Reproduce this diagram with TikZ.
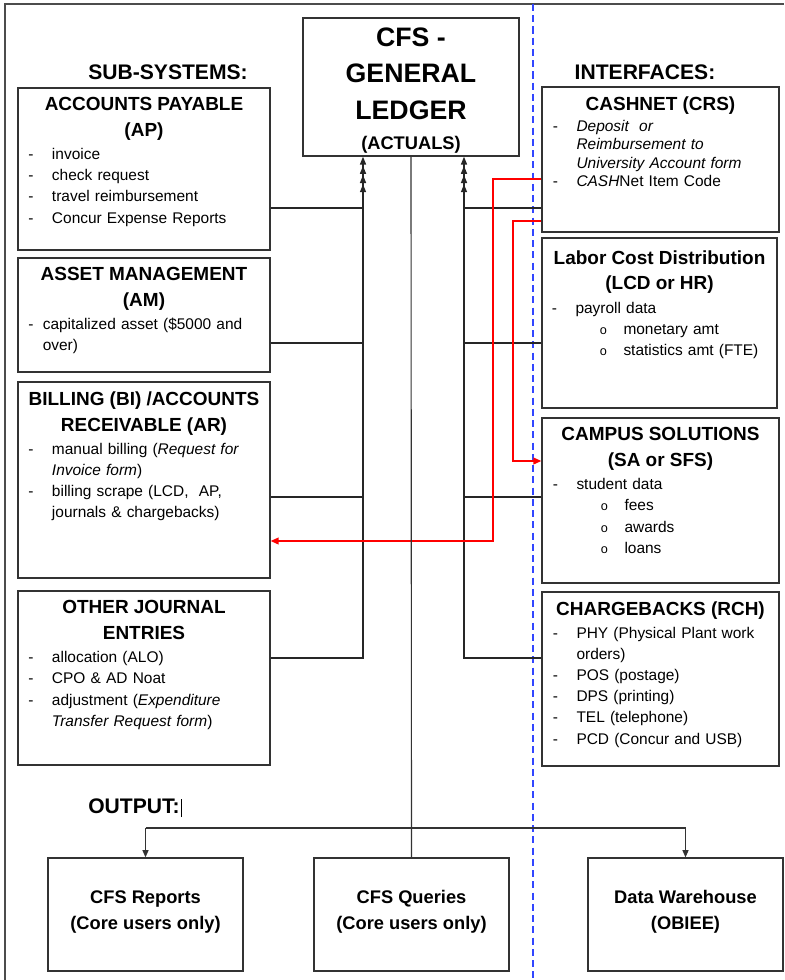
\documentclass[tikz,border=0pt]{standalone}
\usepackage{fontspec}
\setmainfont{Liberation Sans}
\usetikzlibrary{arrows.meta,fit}

% box contents
\newcommand{\boxtitle}[1]{{\centering\bfseries\fontsize{13.5}{18.3}\selectfont #1\par}\vspace{1.5pt}}
\newcommand{\itm}[2][8.5mm]{\par\noindent\hangindent=#1\hangafter=1\hbox to #1{\hspace{2.6mm}-\hfil}#2\par}
\newcommand{\subitm}[1]{\par\noindent\hangindent=20.5mm\hangafter=1\hbox to 20.5mm{\hspace{14.6mm}{\small o}\hfil}#1\par}
\newcommand{\nl}{\hfil\break}

\definecolor{divblue}{RGB}{50,70,255}

\tikzset{
  box/.style={draw=black!80, line width=0.9pt, inner sep=0pt},
  txt/.style={inner sep=0pt, anchor=north, align=left, font=\fontsize{11}{15}\selectfont},
  heading/.style={inner sep=0pt, font=\fontsize{15}{18}\selectfont\bfseries},
  outtxt/.style={inner sep=0pt, align=center, font=\fontsize{13}{18.5}\selectfont\bfseries},
  feed/.style={draw=black!85, line width=1.1pt, -{Triangle[length=2mm,width=1.5mm]}},
  tie/.style={draw=black!80, line width=0.8pt},
  drop/.style={draw=black!80, line width=0.8pt, -{Triangle[length=1.8mm,width=1.5mm]}},
  redline/.style={draw=red, line width=1pt, -{Triangle[length=2mm,width=1.7mm]}},
}

\begin{document}
\begin{tikzpicture}[x=0.25mm,y=-0.25mm]
\useasboundingbox (0,0) rectangle (784,980);
% frame and divider
\draw[black!70, line width=0.9pt] (5,980) -- (5,4) -- (784,4);
\draw[divblue, line width=0.9pt, dash pattern=on 5pt off 3pt] (533,4) -- (533,980);

% headings
\node[heading] (subsys) at (168,72) {SUB-SYSTEMS:};
\node[heading] (iface) at (645,72) {INTERFACES:};
\node[heading] (output) at (135,808) {OUTPUT:\hspace{1pt}\rule[-2.5pt]{0.4pt}{13pt}};

% general ledger
\node[box, fit={(303,18) (519,156)}] (gl) {};
\node[inner sep=0pt, align=center, anchor=north, font=\fontsize{19}{25.8}\selectfont\bfseries] (gltext) at ([yshift=-2.6mm]gl.north)
  {CFS -\\GENERAL\\LEDGER\\[-4pt]{\fontsize{13}{16}\selectfont (ACTUALS)}};

% sub-systems
\node[box, fit={(18,88) (270,250)}] (ap) {};
\node[txt, text width=63mm] (aptext) at ([yshift=-2.5mm]ap.north) {%
  \boxtitle{ACCOUNTS PAYABLE\\(AP)}
  \itm{invoice}
  \itm{check request}
  \itm{travel reimbursement}
  \itm{Concur Expense Reports}};

\node[box, fit={(18,258) (270,372)}] (am) {};
\node[txt, text width=63mm] (amtext) at ([yshift=-2.5mm]am.north) {%
  \boxtitle{ASSET MANAGEMENT\\(AM)}
  \itm[6.2mm]{capitalized asset (\$5000 and\nl over)}};

\node[box, fit={(18,382) (270,578)}] (bi) {};
\node[txt, text width=63mm] (bitext) at ([yshift=-2.5mm]bi.north) {%
  \boxtitle{BILLING (BI) /ACCOUNTS\\RECEIVABLE (AR)}
  \itm{manual billing (\textit{Request for}\nl\textit{Invoice form})}
  \itm{billing scrape (LCD,~ AP,\nl journals \& chargebacks)}};

\node[box, fit={(18,591) (270,765)}] (oje) {};
\node[txt, text width=63mm] (ojetext) at ([yshift=-2.5mm]oje.north) {%
  \boxtitle{OTHER JOURNAL\\ENTRIES}
  \itm{allocation (ALO)}
  \itm{CPO \& AD Noat}
  \itm{adjustment (\textit{Expenditure}\nl\textit{Transfer Request form})}};

% interfaces
\node[box, fit={(542,87) (779,232)}] (cash) {};
\node[txt, text width=59mm, font=\fontsize{11}{13.2}\selectfont] (cashtext) at ([yshift=-2.5mm]cash.north) {%
  \boxtitle{CASHNET (CRS)}
  \itm{\textit{Deposit~ or}\nl\textit{Reimbursement to}\nl\textit{University Account form}}
  \itm{\textit{CASH}Net Item Code}};

\node[box, fit={(542,238) (777,408)}] (lcd) {};
\node[txt, text width=59mm] (lcdtext) at ([yshift=-3.2mm]lcd.north) {%
  \boxtitle{Labor Cost Distribution\\(LCD or HR)}
  \itm{payroll data}
  \subitm{monetary amt}
  \subitm{statistics amt (FTE)}};

\node[box, fit={(542,418) (779,583)}] (cs) {};
\node[txt, text width=59mm] (cstext) at ([yshift=-2.5mm]cs.north) {%
  \boxtitle{CAMPUS SOLUTIONS\\(SA or SFS)}
  \itm{student data}
  \subitm{fees}
  \subitm{awards}
  \subitm{loans}};

\node[box, fit={(542,592) (779,766)}] (cb) {};
\node[txt, text width=59mm] (cbtext) at ([yshift=-2.5mm]cb.north) {%
  \boxtitle{CHARGEBACKS (RCH)}
  \itm{PHY (Physical Plant work\nl orders)}
  \itm{POS (postage)}
  \itm{DPS (printing)}
  \itm{TEL (telephone)}
  \itm{PCD (Concur and USB)}};

% outputs
\node[box, fit={(48,858) (243,971)}] (rep) {};
\node[outtxt] (reptext) at ([yshift=0.7mm]rep.center) {CFS Reports\\(Core users only)};
\node[box, fit={(314,858) (509,971)}] (qry) {};
\node[outtxt] (qrytext) at ([yshift=0.7mm]qry.center) {CFS Queries\\(Core users only)};
\node[box, fit={(588,858) (783,971)}] (dw) {};
\node[outtxt] (dwtext) at ([yshift=0.7mm]dw.center) {Data Warehouse\\(OBIEE)};

% feeds into the ledger
\draw[feed] (oje.east |- 0,658) -| (gl.south -| 363,0);
\draw[feed, shorten >=2.3mm] (bi.east |- 0,497) -| (gl.south -| 363,0);
\draw[feed, shorten >=4.6mm] (am.east |- 0,343) -| (gl.south -| 363,0);
\draw[feed, shorten >=6.9mm] (ap.east |- 0,208) -| (gl.south -| 363,0);
\draw[feed] (cb.west |- 0,658) -| (gl.south -| 464,0);
\draw[feed, shorten >=2.3mm] (cs.west |- 0,497) -| (gl.south -| 464,0);
\draw[feed, shorten >=4.6mm] (lcd.west |- 0,343) -| (gl.south -| 464,0);
\draw[feed, shorten >=6.9mm] (cash.west |- 0,208) -| (gl.south -| 464,0);

% cashnet cross feeds
\draw[redline] (cash.west |- 0,179) -| (493,541) -- (bi.east |- 0,541);
\draw[redline] (cash.west |- 0,221) -| (513,461) -- (cs.west |- 0,461);

% outputs
\draw[tie] (gl.south) -- (qry.north);
\draw[tie] (rep.north |- 0,828) -- (dw.north |- 0,828);
\draw[drop] (rep.north |- 0,828) -- (rep.north);
\draw[drop] (dw.north |- 0,828) -- (dw.north);
\end{tikzpicture}
\end{document}
